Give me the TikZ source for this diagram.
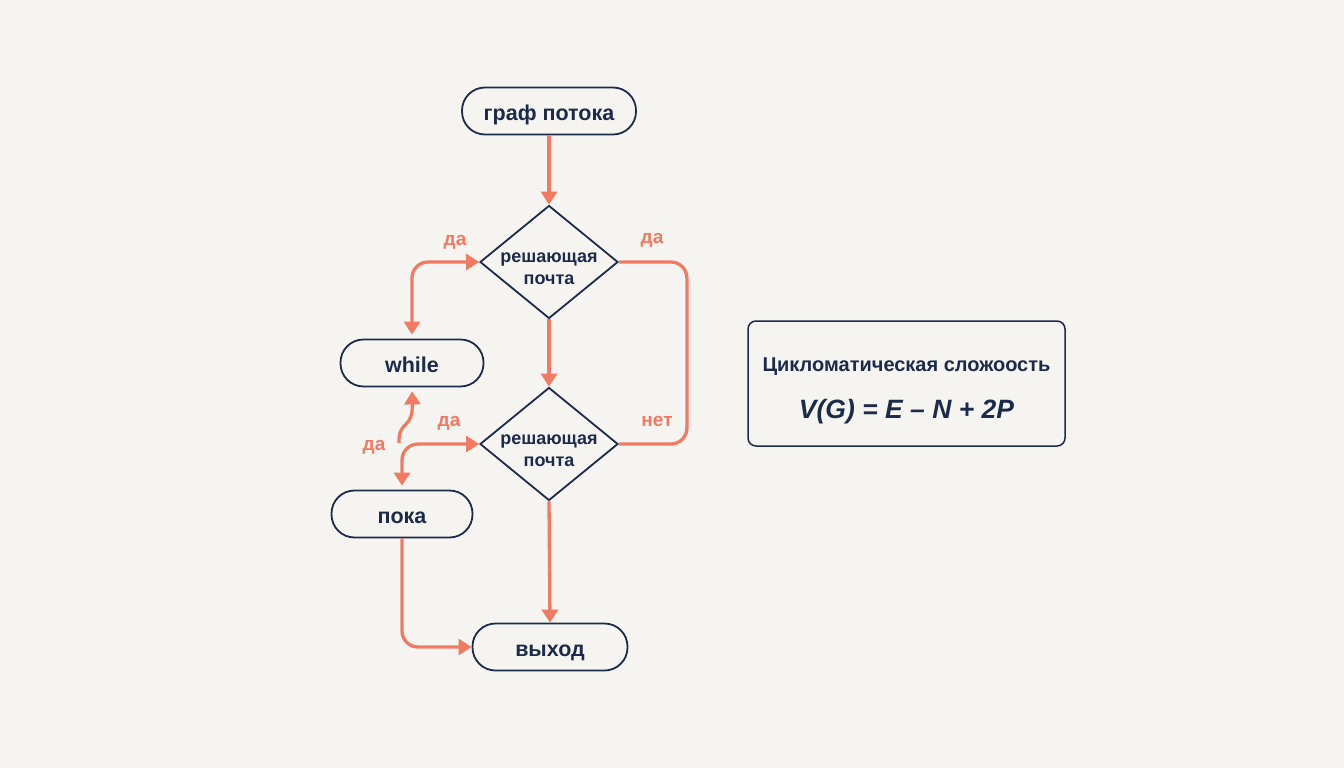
\documentclass[tikz,border=0pt]{standalone}
\usepackage{fontspec}
\setmainfont{Liberation Sans}
\usetikzlibrary{shapes.geometric,arrows.meta}
\definecolor{bg}{HTML}{F6F4F0}
\definecolor{navy}{HTML}{1C2B4A}
\definecolor{coral}{HTML}{F27A63}
\tikzset{
  pill/.style={draw=navy, line width=1.8pt, rounded corners=23pt, minimum width=#1,
    minimum height=47pt, inner sep=0pt, text=navy, text height=18pt, text depth=0pt,
    font=\bfseries\fontsize{21.5}{22}\selectfont},
  decision/.style={diamond, draw=navy, line width=1.8pt, minimum width=138pt,
    minimum height=113pt, inner sep=0pt},
  dtext/.style={text=navy, align=center, font=\bfseries\fontsize{18}{22}\selectfont},
  flow/.style={draw=coral, line width=3.3pt, -{Triangle[length=13pt,width=16pt]}},
  flowboth/.style={draw=coral, line width=3.3pt, {Triangle[length=13pt,width=16pt]}-{Triangle[length=13pt,width=16pt]}},
  plain/.style={draw=coral, line width=3.3pt},
  lbl/.style={text=coral, font=\bfseries\fontsize{19}{20}\selectfont},
  infobox/.style={draw=navy, line width=1.5pt, rounded corners=8pt, minimum width=317pt,
    minimum height=125pt, inner sep=0pt},
}
\begin{document}
\begin{tikzpicture}[x=1pt,y=-1pt]
\fill[bg] (0,0) rectangle (1344,768);
\useasboundingbox (0,0) rectangle (1344,768);

% nodes
\node[pill=174pt] (start) at (549,111) {граф потока};
\node[decision] (d1) at (549,262) {};
\node[dtext] (d1t) at (549,269) {решающая\\почта};
\node[pill=143pt] (while) at (412,363) {while};
\node[decision] (d2) at (549,444) {};
\node[dtext] (d2t) at (549,451) {решающая\\почта};
\node[pill=141pt] (poka) at (402,514) {пока};
\node[pill=155pt] (exit) at (550,647) {выход};

\node[infobox] (cc) at (906.5,383.5) {};
\node[text=navy, font=\bfseries\fontsize{20}{22}\selectfont] (cct) at ([yshift=17pt]cc.center) {Цикломатическая сложоость};
\node[text=navy, font=\bfseries\itshape\fontsize{26.5}{28}\selectfont] (ccf) at ([yshift=-28pt]cc.center) {V(G) = E – N + 2P};

% connectors
\draw[flow] (start.south) -- (d1.north);
\draw[flow] (d1.south) -- (d2.north);
\draw[plain, rounded corners=16pt] (d1.east) -- ++(68,0) |- (d2.east);
\draw[flowboth, rounded corners=16pt, shorten <=4pt] (while.north) |- (d1.west);
\coordinate (w0) at (399,443);
\draw[flow, shorten >=4pt] (w0) .. controls (398,420) and (413,430) .. (while.south);
\draw[flowboth, rounded corners=16pt, shorten <=4pt] (poka.north) |- (d2.west);
\draw[flow, rounded corners=16pt] (poka.south) |- (exit.west);
\draw[flow] (d2.south) -- (exit.north);

% labels
\node[lbl] (l1) at (455,242) {да};
\node[lbl] (l2) at (652,240) {да};
\node[lbl] (l3) at (449,423) {да};
\node[lbl] (l4) at (657,421) {нет};
\node[lbl] (l5) at (374,447) {да};
\end{tikzpicture}
\end{document}
